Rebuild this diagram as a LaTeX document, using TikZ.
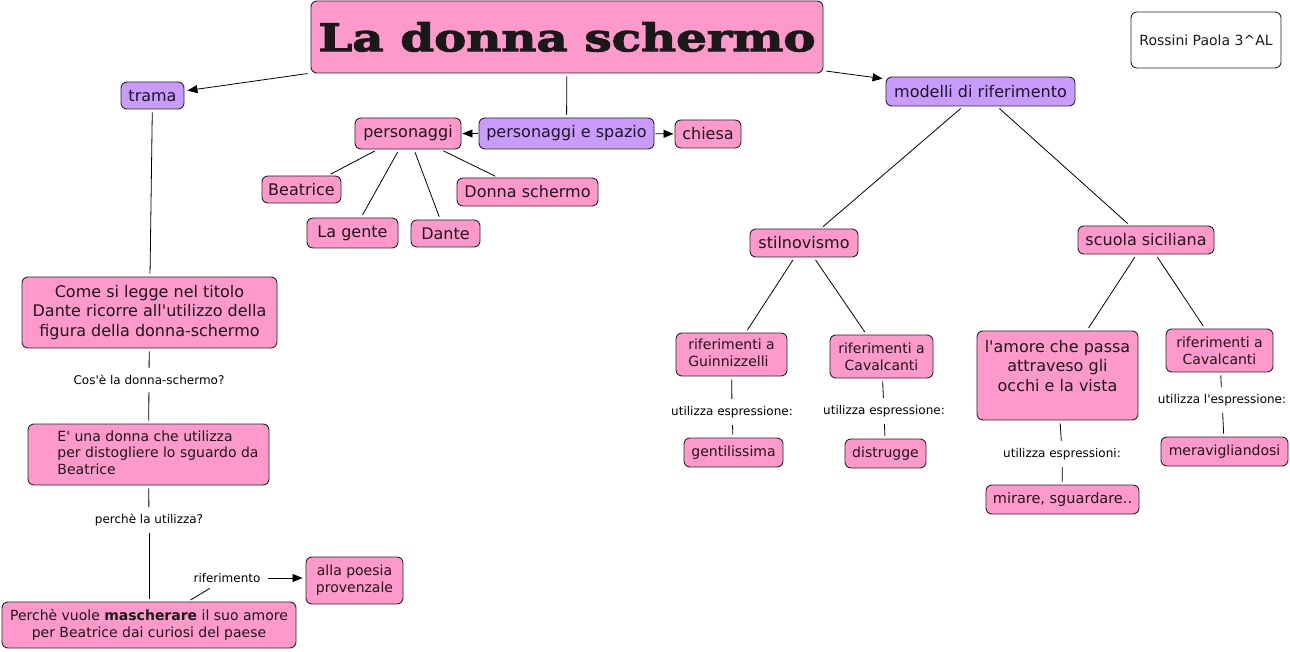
\documentclass[tikz,border=0pt]{standalone}
\usepackage{fontspec}
\setmainfont{DejaVu Sans}[Ligatures=TeXOff]
\newfontfamily\titlefont[FakeStretch=1.27,FakeBold=3]{DejaVu Serif}
\usetikzlibrary{arrows.meta}
\definecolor{cpink}{HTML}{FF99CC}
\definecolor{cpurple}{HTML}{C99BFF}
\newcommand{\fs}[1]{\fontsize{#1}{\fpeval{#1*1.2}}\selectfont}
\tikzset{
  cbox/.style={draw=black!85, rounded corners=6pt, line width=0.9pt, inner sep=0pt, align=center, text=black!90},
  pinkbox/.style={cbox, fill=cpink},
  purplebox/.style={cbox, fill=cpurple},
  lbl/.style={inner sep=4pt, font=\fontsize{12}{14}\selectfont},
  conn/.style={line width=0.8pt, shorten <=3pt, shorten >=3pt},
  arr/.style={conn, -{Triangle[length=10pt,width=8pt]}},
}
\begin{document}
\begin{tikzpicture}[x=1pt,y=-1pt]
\useasboundingbox[fill=white] (0,0) rectangle (1290,652);
% nodes
\node[pinkbox, minimum width=512, minimum height=72] (title) at (567,37) {\titlefont\bfseries\fontsize{38}{40}\selectfont La donna schermo};
\node[cbox, fill=white, minimum width=150, minimum height=56, font=\fontsize{14}{16}\selectfont] (rossini) at (1206,40) {Rossini Paola 3\^{}AL};
\node[purplebox, minimum width=63, minimum height=27, font=\fs{16}] (trama) at (152.5,95.5) {trama};
\node[pinkbox, minimum width=106, minimum height=31, font=\fs{16}] (pers) at (408,133.5) {personaggi};
\node[purplebox, minimum width=175, minimum height=31, font=\fs{16}] (pes) at (566.5,133.5) {personaggi e spazio};
\node[pinkbox, minimum width=66, minimum height=28, font=\fs{16}] (chiesa) at (708,134) {chiesa};
\node[pinkbox, minimum width=79, minimum height=27, font=\fs{16}] (beatrice) at (301.5,189.5) {Beatrice};
\node[pinkbox, minimum width=141, minimum height=28, font=\fs{16}] (donnasch) at (527.5,192) {Donna schermo};
\node[pinkbox, minimum width=91, minimum height=30, font=\fs{16}] (gente) at (352.5,233) {La gente};
\node[pinkbox, minimum width=69, minimum height=27, font=\fs{16}] (dante) at (445.5,233.5) {Dante};
\node[purplebox, minimum width=189, minimum height=29, font=\fs{16}] (modelli) at (980.5,91.5) {modelli di riferimento};
\node[pinkbox, minimum width=108, minimum height=28, font=\fs{16}] (stil) at (804,243) {stilnovismo};
\node[pinkbox, minimum width=136, minimum height=28, font=\fs{16}] (scuola) at (1146,240) {scuola siciliana};
\node[pinkbox, minimum width=255, minimum height=71, font=\fs{16}] (come) at (149.5,312.5) {Come si legge nel titolo\\Dante ricorre all'utilizzo della\\figura della donna-schermo};
\node[pinkbox, minimum width=241, minimum height=61, font=\fs{14}] (euna) at (148.5,454.5) {\hspace*{19pt}\begin{tabular}{@{}l@{}}E' una donna che utilizza\\ per distogliere lo sguardo da\\Beatrice\end{tabular}};
\node[pinkbox, minimum width=294, minimum height=46, font=\fs{14}] (perche) at (149,625) {Perchè vuole \textbf{mascherare} il suo amore\\per Beatrice dai curiosi del paese};
\node[pinkbox, minimum width=97, minimum height=47, font=\fs{14}] (poesia) at (354.5,580.5) {alla poesia\\ provenzale};
\node[pinkbox, minimum width=111, minimum height=43, font=\fs{14}] (guin) at (731.5,354.5) {\begin{tabular}{@{}l@{}}riferimenti a\\Guinnizzelli\end{tabular}};
\node[pinkbox, minimum width=103, minimum height=43, font=\fs{14}] (cav1) at (881.5,356.5) {riferimenti a\\Cavalcanti};
\node[pinkbox, minimum width=99, minimum height=29, font=\fs{14}] (gentil) at (733.5,452.5) {gentilissima};
\node[pinkbox, minimum width=81, minimum height=29, font=\fs{14}] (distr) at (885.5,453.5) {distrugge};
\node[pinkbox, minimum width=161, minimum height=89, font=\fs{16}] (amore) at (1057.5,375.5) {\begin{tabular}{@{}c@{}}l'amore che passa\\attraveso gli\\occhi e la vista\\[15pt]\end{tabular}};
\node[pinkbox, minimum width=107, minimum height=43, font=\fs{14}] (cav2) at (1219.5,350.5) {riferimenti a\\Cavalcanti};
\node[pinkbox, minimum width=127, minimum height=29, font=\fs{14}] (merav) at (1224.5,451.5) {meravigliandosi};
\node[pinkbox, minimum width=153, minimum height=29, font=\fs{14.5}] (mirare) at (1062.5,499.5) {mirare, sguardare..};
% labels
\node[lbl] (l1) at (149,380) {Cos'è la donna-schermo?};
\node[lbl] (l2) at (149,520) {perchè la utilizza?};
\node[lbl] (l3) at (227,578) {riferimento};
\node[lbl] (l4) at (732,412) {utilizza espressione:};
\node[lbl] (l5) at (884,411) {utilizza espressione:};
\node[lbl] (l6) at (1062,454) {utilizza espressioni:};
\node[lbl] (l7) at (1222,400) {utilizza l'espressione:};
% connectors
\draw[arr] (title) -- (trama);
\draw[arr] (title) -- (modelli);
\draw[conn] (title) -- (pes);
\draw[arr, shorten <=1pt, shorten >=1pt] (pes) -- (pers);
\draw[arr, shorten <=1pt, shorten >=1pt] (pes) -- (chiesa);
\draw[conn] (pers) -- (beatrice);
\draw[conn] (pers) -- (gente);
\draw[conn] (pers) -- (dante);
\draw[conn] (pers) -- (donnasch);
\draw[conn] (trama) -- (come);
\draw[conn] (come) -- (l1);
\draw[conn] (l1) -- (euna);
\draw[conn] (euna) -- (l2);
\draw[conn] (l2) -- (perche);
\draw[conn] (perche) -- (l3);
\draw[arr] (l3.east) -- (l3.east -| poesia.west);
\draw[conn] (modelli) -- (stil);
\draw[conn] (modelli) -- (scuola);
\draw[conn] (stil) -- (guin);
\draw[conn] (stil) -- (cav1);
\draw[conn] (guin) -- (l4);
\draw[conn] (l4) -- (gentil);
\draw[conn] (cav1) -- (l5);
\draw[conn] (l5) -- (distr);
\draw[conn] (scuola) -- (amore);
\draw[conn] (scuola) -- (cav2);
\draw[conn] (amore) -- (l6);
\draw[conn] (l6) -- (mirare);
\draw[conn] (cav2) -- (l7);
\draw[conn] (l7) -- (merav);
\end{tikzpicture}
\end{document}
